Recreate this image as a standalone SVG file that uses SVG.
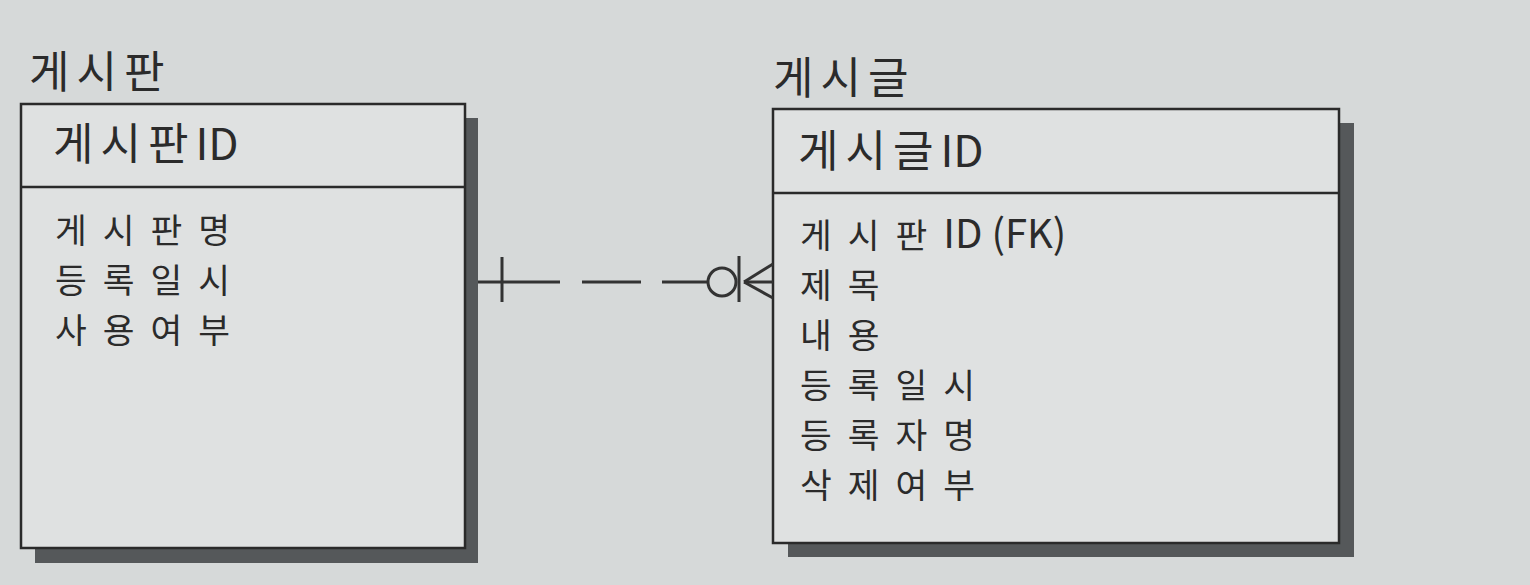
<svg xmlns="http://www.w3.org/2000/svg" width="1530" height="585" viewBox="0 0 1530 585">
<style>
.bg{fill:#d6d9d9}
.shadow{fill:#55585a}
.box{fill:#dfe1e1;stroke:#2a2a2a;stroke-width:2.5}
.div{stroke:#2a2a2a;stroke-width:2.5}
.t{font-family:"Noto Sans CJK KR","Noto Sans",sans-serif;font-size:44px;fill:#2b2b2b;letter-spacing:7px}
.a{font-family:"Noto Sans CJK KR","Noto Sans",sans-serif;font-size:34.5px;fill:#2b2b2b;letter-spacing:16px;transform-box:fill-box}
.l{letter-spacing:0px}
.ln{stroke:#333;stroke-width:3;fill:none}
</style>
<rect class="bg" x="0" y="0" width="1530" height="585"/>
<g id="board">
<text class="t" x="29" y="88">게시판</text>
<rect class="shadow" x="35" y="118" width="443" height="445"/>
<rect class="box" x="21" y="104" width="444" height="444"/>
<line class="div" x1="21" y1="187" x2="465" y2="187"/>
<text class="t" x="53" y="160">게시판<tspan class="l">ID</tspan></text>
<text class="a"><tspan x="55" y="243">게시판명</tspan><tspan x="55" y="293">등록일시</tspan><tspan x="55" y="343">사용여부</tspan></text>
</g>
<g id="post">
<text class="t" x="773" y="94">게시글</text>
<rect class="shadow" x="788" y="123" width="566" height="434"/>
<rect class="box" x="773" y="109" width="566" height="434"/>
<line class="div" x1="773" y1="193" x2="1339" y2="193"/>
<text class="t" x="798" y="167">게시글<tspan class="l">ID</tspan></text>
<text class="a"><tspan x="800" y="248">게시판<tspan class="l" font-size="40px">ID (FK)</tspan></tspan><tspan x="800" y="298">제목</tspan><tspan x="800" y="348">내용</tspan><tspan x="800" y="398">등록일시</tspan><tspan x="800" y="448">등록자명</tspan><tspan x="800" y="498">삭제여부</tspan></text>
</g>
<g id="connectors">
<line class="ln" x1="478" y1="282" x2="560" y2="282"/>
<line class="ln" x1="582" y1="282" x2="641" y2="282"/>
<line class="ln" x1="662" y1="282" x2="708" y2="282"/>
<line class="ln" x1="502" y1="257" x2="502" y2="302"/>
<circle class="ln" cx="722" cy="282" r="14"/>
<line class="ln" x1="739" y1="256" x2="739" y2="302"/>
<line class="ln" x1="744" y1="282" x2="773" y2="282"/>
<line class="ln" x1="744" y1="282" x2="773" y2="264"/>
<line class="ln" x1="744" y1="282" x2="773" y2="298"/>
</g>
</svg>
